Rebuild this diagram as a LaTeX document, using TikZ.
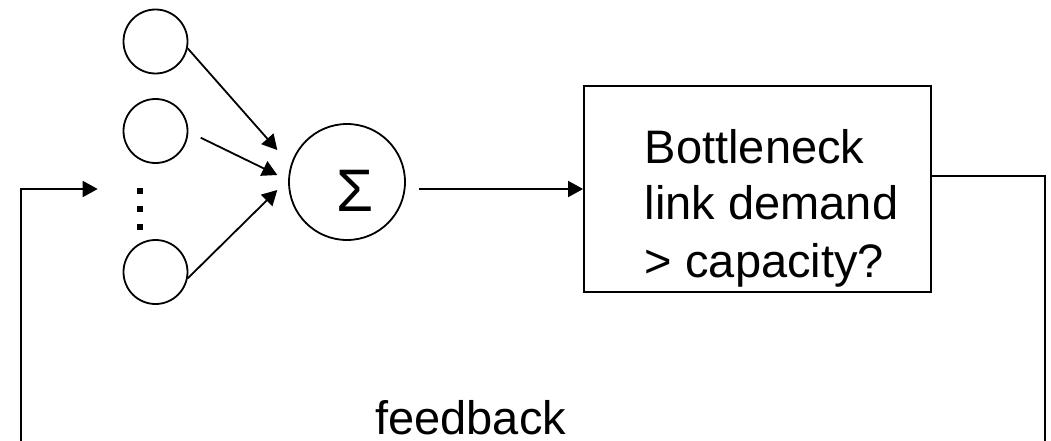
\documentclass[tikz,border=0pt]{standalone}
\usepackage{fontspec}
\setmainfont{Liberation Sans}
\usetikzlibrary{arrows.meta}
\begin{document}
\begin{tikzpicture}[x=1pt,y=-1pt,
  line width=1.8pt,
  flow/.style={-{Triangle[length=15pt,width=16pt]}},
  unit/.style={draw,circle,minimum size=64pt,inner sep=0pt},
  txt/.style={font=\fontsize{47}{57}\selectfont,inner sep=0pt}]
\useasboundingbox (0,0) rectangle (1051,441);

% input units
\node[unit] (c1) at (155.5,41.5) {};
\node[unit] (c2) at (155.5,131) {};
\node[unit] (c3) at (155.5,272) {};
\foreach \yy in {191,209,227}
  \fill (136.5,\yy-3) rectangle (142.5,\yy+3);

% summing junction
\node[draw,circle,minimum size=116pt,inner sep=0pt] (sum) at (347,182) {};
\node[inner sep=0pt,anchor=base,font=\fontsize{60}{62}\selectfont] (sig) at (355.5,211) {Σ};

% arrow tips in front of the junction
\coordinate (t1) at (277.3,150);
\coordinate (t2) at (277.3,175);
\coordinate (t3) at (277.3,190);
\coordinate (s2) at (200.7,137.7);
\draw[flow] (c1.-12) -- (t1);
\draw[flow] (s2) -- (t2);
\draw[flow] (c3.-11) -- (t3);

% bottleneck test
\node[draw,minimum width=347pt,minimum height=206pt,inner sep=0pt] (box) at (757.5,189) {};
\node[txt,anchor=base west] (b1) at (644,163) {Bottleneck};
\node[txt,anchor=base west] (b2) at (644,219.5) {link demand};
\node[txt,anchor=base west] (b3) at (644,277) {> capacity?};

\draw[flow] ([xshift=13pt]sum.east |- box.west) -- (box.west);

% feedback loop
\coordinate (r1) at (1045,176);
\coordinate (r2) at (1045,441);
\coordinate (l1) at (21,441);
\coordinate (l2) at (21,189);
\coordinate (fin) at (97.7,189);
\draw ([yshift=13pt]box.east) -- (r1) -- (r2);
\draw[flow] (l1) -- (l2) -- (fin);
\node[txt,anchor=base east] (fb) at (567,434) {feedback};
\end{tikzpicture}
\end{document}
